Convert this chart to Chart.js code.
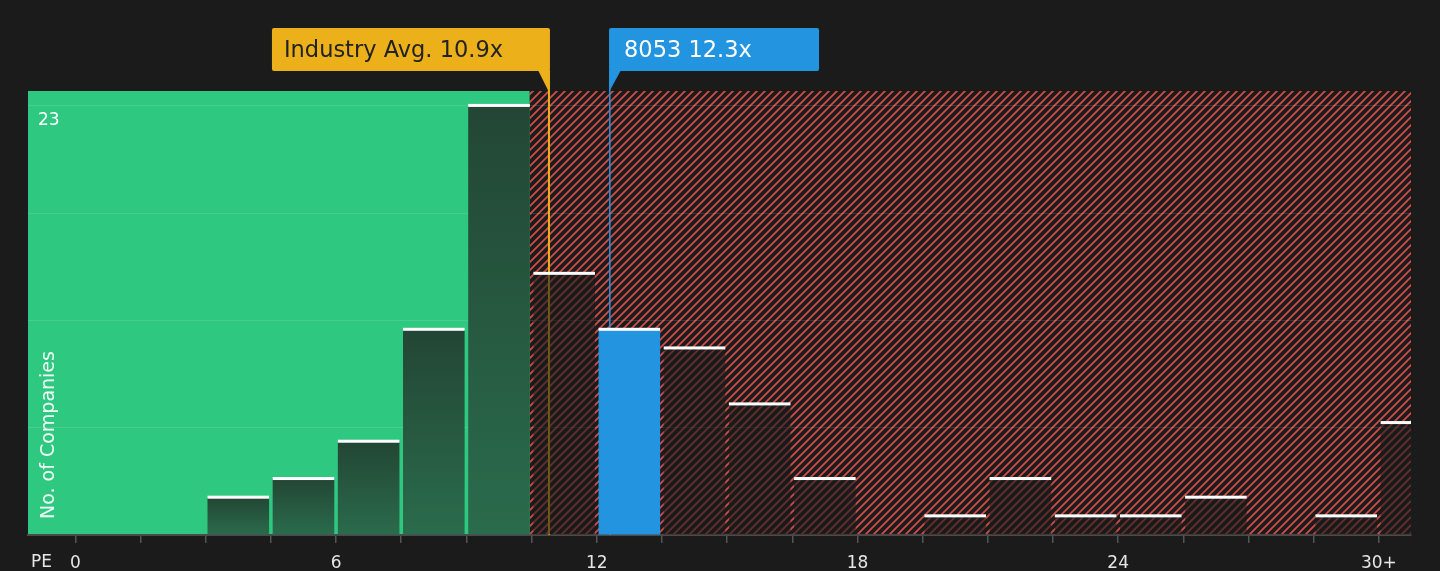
<!DOCTYPE html>
<html>
<head>
<meta charset="utf-8">
<script src="https://cdn.jsdelivr.net/npm/chart.js@4/dist/chart.umd.min.js"></script>
<style>
  html, body { margin: 0; padding: 0; background: #1b1b1b; }
  #wrap { width: 1440px; height: 571px; }
</style>
</head>
<body>
<div id="wrap"><canvas id="pe"></canvas></div>
<script>
// PE histogram, bins 1.5 wide, last bin is 30+
const binStarts = [0, 1.5, 3, 4.5, 6, 7.5, 9, 10.5, 12, 13.5, 15, 16.5, 18, 19.5, 21, 22.5, 24, 25.5, 27, 28.5, 30];
const counts    = [0, 0,   2, 3,   5, 11,  23, 14,   11, 10,   7,  3,    0,  1,    3,  1,    1,  2,    0,  1,    6];
const tickValues = [0, 1.5, 3, 4.5, 6, 7.5, 9, 10.5, 12, 13.5, 15, 16.5, 18, 19.5, 21, 22.5, 24, 25.5, 27, 28.5, 30];
const tickLabels = { 0: '0', 6: '6', 12: '12', 18: '18', 24: '24', 30: '30+' };
const gridValues = [0, 5.75, 11.5, 17.25, 23];
const yMaxLabel = '23';
const industryAvg = 10.9;
const companyPE = 12.3;
const companyName = '8053';
const fairEdge = 10.5;

const BG = '#1b1b1b';
const GREEN = '#2ec880';
const BLUE = '#2394e0';
const GOLD = '#ecb11a';
const FONT = '"DejaVu Sans", sans-serif';

const binWidth = binStarts[1] - binStarts[0];
const companyBin = binStarts.findIndex(s => companyPE >= s && companyPE < s + binWidth);

function hatch() {
  const c = document.createElement('canvas');
  c.width = 8; c.height = 8;
  const g = c.getContext('2d');
  g.fillStyle = BG;
  g.fillRect(0, 0, 8, 8);
  g.strokeStyle = '#d24c48';
  g.lineWidth = 1.8;
  g.beginPath();
  g.moveTo(-2, 10); g.lineTo(10, -2);
  g.moveTo(-6, 6); g.lineTo(6, -6);
  g.moveTo(2, 14); g.lineTo(14, 2);
  g.stroke();
  return g.createPattern(c, 'repeat');
}

function barColor(ctx) {
  const i = ctx.dataIndex;
  if (i === companyBin) return BLUE;
  if (binStarts[i] + binWidth > fairEdge) return 'rgba(27,27,27,0.6)';
  const chart = ctx.chart;
  if (!chart.chartArea) return '#25543f';
  const y = chart.scales.y;
  const top = y.getPixelForValue(counts[i]);
  const bot = y.getPixelForValue(0);
  if (!(bot - top > 0)) return '#25543f';
  const gr = chart.ctx.createLinearGradient(0, top, 0, bot);
  gr.addColorStop(0, '#234635');
  gr.addColorStop(1, '#2a6c4c');
  return gr;
}

const backdrop = {
  id: 'backdrop',
  beforeDraw(chart) {
    const { ctx, chartArea: a, scales: { x } } = chart;
    const meta = chart.getDatasetMeta(0);
    const lastFair = binStarts.findIndex(s => s + binWidth >= fairEdge);
    const el = meta.data[lastFair];
    const gx = el ? el.x + el.width / 2 : x.getPixelForValue(fairEdge);
    ctx.save();
    ctx.fillStyle = GREEN;
    ctx.fillRect(a.left, a.top, gx - a.left, a.bottom - a.top);
    ctx.fillStyle = hatch();
    ctx.fillRect(gx, a.top, a.right - gx, a.bottom - a.top);
    ctx.restore();
  },
  beforeDatasetsDraw(chart) {
    const { ctx, chartArea: a, scales: { x } } = chart;
    ctx.save();
    let px = x.getPixelForValue(industryAvg);
    ctx.strokeStyle = GOLD;
    ctx.lineWidth = 2;
    ctx.beginPath(); ctx.moveTo(px, 71); ctx.lineTo(px, a.bottom); ctx.stroke();
    px = x.getPixelForValue(companyPE);
    ctx.strokeStyle = BLUE;
    ctx.lineWidth = 1.5;
    ctx.beginPath(); ctx.moveTo(px, 71); ctx.lineTo(px, a.bottom); ctx.stroke();
    ctx.restore();
  },
  afterDatasetsDraw(chart) {
    const { ctx, chartArea: a } = chart;
    const meta = chart.getDatasetMeta(0);
    ctx.save();
    ctx.beginPath();
    ctx.rect(a.left, a.top - 5, a.right - a.left, a.bottom - a.top + 5);
    ctx.clip();
    ctx.fillStyle = '#ffffff';
    meta.data.forEach((b, i) => {
      if (!counts[i]) return;
      ctx.fillRect(b.x - b.width / 2, b.y - 2, b.width, 3);
    });
    ctx.restore();
  },
  afterDraw(chart) {
    const { ctx, chartArea: a, scales: { x, y } } = chart;
    ctx.save();
    // y labels inside plot
    ctx.fillStyle = '#ffffff';
    ctx.font = '17px ' + FONT;
    ctx.textBaseline = 'middle';
    ctx.fillText(yMaxLabel, a.left + 10, y.getPixelForValue(23) + 15);
    ctx.save();
    ctx.translate(a.left + 21, a.bottom - 16);
    ctx.rotate(-Math.PI / 2);
    ctx.fillStyle = 'rgba(255,255,255,0.92)';
    ctx.font = '19px ' + FONT;
    ctx.textAlign = 'left';
    ctx.fillText('No. of Companies', 0, 0);
    ctx.restore();
    // axis name
    ctx.fillStyle = '#e6e6e6';
    ctx.font = '17px ' + FONT;
    ctx.fillText('PE', 31, 563);

    // callouts
    ctx.font = '22.5px ' + FONT;
    const top = 28, h = 43, bottom = top + h;
    let px = x.getPixelForValue(industryAvg);
    let right = px + 1, left = right - 278;
    ctx.fillStyle = GOLD;
    ctx.beginPath(); ctx.roundRect(left, top, right - left, h, 2); ctx.fill();
    ctx.beginPath();
    ctx.moveTo(right - 12, bottom - 1); ctx.lineTo(right, bottom - 1); ctx.lineTo(px, bottom + 21);
    ctx.closePath(); ctx.fill();
    ctx.fillStyle = '#222222';
    ctx.textBaseline = 'middle';
    ctx.fillText('Industry Avg. ' + industryAvg + 'x', left + 12, top + h / 2 + 2);

    px = x.getPixelForValue(companyPE);
    left = px - 0.75;
    ctx.fillStyle = BLUE;
    ctx.beginPath(); ctx.roundRect(left, top, 210, h, 2); ctx.fill();
    ctx.beginPath();
    ctx.moveTo(left, bottom - 1); ctx.lineTo(left + 12, bottom - 1); ctx.lineTo(left, bottom + 21);
    ctx.closePath(); ctx.fill();
    ctx.fillStyle = '#ffffff';
    ctx.fillText(companyName + ' ' + companyPE + 'x', left + 15, top + h / 2 + 2);
    ctx.restore();
  }
};

new Chart(document.getElementById('pe'), {
  type: 'bar',
  data: {
    datasets: [{
      data: binStarts.map((s, i) => ({ x: s + binWidth / 2, y: counts[i] })),
      backgroundColor: barColor,
      borderWidth: 0,
      barPercentage: 0.945,
      categoryPercentage: 1,
      clip: 0
    }]
  },
  options: {
    responsive: true,
    maintainAspectRatio: false,
    animation: false,
    layout: { padding: { left: 28, right: 29, top: 91, bottom: 0 } },
    plugins: { legend: { display: false }, tooltip: { enabled: false } },
    scales: {
      x: {
        type: 'linear',
        offset: false,
        min: -1.09,
        max: 30.74,
        afterBuildTicks: s => { s.ticks = tickValues.map(v => ({ value: v })); },
        afterFit: s => { s.height = 36; },
        ticks: {
          autoSkip: false,
          maxRotation: 0,
          padding: 10,
          color: '#e6e6e6',
          font: { family: FONT, size: 17 },
          callback: v => tickLabels[v] || ''
        },
        grid: { drawOnChartArea: false, drawTicks: true, tickLength: 8, color: '#555555', lineWidth: 1.5, offset: false },
        border: { display: true, color: '#4a4a4a', width: 2 }
      },
      y: {
        min: 0,
        max: 23.8,
        afterBuildTicks: s => { s.ticks = gridValues.map(v => ({ value: v })); },
        afterFit: s => { s.width = 0; },
        ticks: { display: false },
        grid: { color: 'rgba(255,255,255,0.12)', drawTicks: false, lineWidth: 1 },
        border: { display: false }
      }
    }
  },
  plugins: [backdrop]
});
</script>
</body>
</html>
